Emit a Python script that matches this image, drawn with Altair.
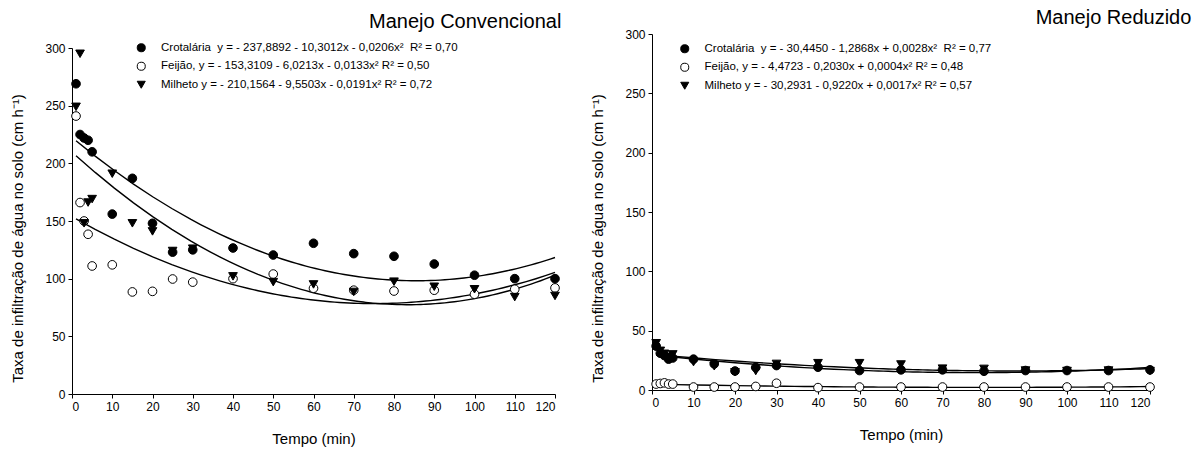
import altair as alt
import pandas as pd

# ---------------- data ----------------
tempo = [1, 2, 3, 4, 5, 10, 15, 20, 25, 30, 40, 50, 60, 70, 80, 90, 100, 110, 120]

conv_crotalaria = [269, 225, 222, 220, 210, 156, 187, 148, 123, 125, 126.6, 120.5, 130.7, 121.7, 119.4, 112.7, 103, 100, 100]
conv_feijao = [241, 166, 150, 138.5, 111, 112, 88.5, 89, 99.7, 97, 100, 104, 91.7, 90, 89.3, 90, 86.5, 90.8, 92]
conv_milheto = [249, 295, 148, 166, 169, 191, 148, 141, 124, 126, 102, 97, 95, 88.5, 97.4, 93, 90.8, 84, 85]

red_crotalaria = [37, 31, 29, 26, 27, 26, 22, 16, 19, 20.6, 19.2, 16.4, 17, 17, 15.8, 16.4, 16.4, 16.4, 17]
red_feijao = [5, 5.5, 6, 5, 5, 2.5, 2.5, 2.5, 3, 5.7, 2, 2.5, 2.5, 2.5, 2.5, 2.5, 2.5, 2.5, 2.5]
red_milheto = [39.4, 33, 30.5, 28, 30, 23.5, 20, 15, 16, 22, 22.6, 22.6, 21.5, 18, 17.8, 16.4, 16, 16.4, 16]

NB = "\u00a0"
conv_labels = [
    f"Crotalária{NB} y = - 237,8892 - 10,3012x - 0,0206x²{NB} R² = 0,70",
    "Feijão, y = - 153,3109 - 6,0213x - 0,0133x² R² = 0,50",
    "Milheto y = - 210,1564 - 9,5503x - 0,0191x² R² = 0,72",
]
red_labels = [
    f"Crotalária{NB} y = - 30,4450 - 1,2868x + 0,0028x²{NB} R² = 0,77",
    "Feijão, y = - 4,4723 - 0,2030x + 0,0004x² R² = 0,48",
    "Milheto y = - 30,2931 - 0,9220x + 0,0017x² R² = 0,57",
]

x_ticks = list(range(0, 121, 10))
y_ticks = list(range(0, 301, 50))

FONT = "Liberation Sans"
Y_TITLE = "Taxa de infiltração de água no solo (cm h⁻¹)"


def make_df(values, labels):
    rows = []
    for vals, lab in zip(values, labels):
        for t, v in zip(tempo, vals):
            rows.append({"t": t, "v": v, "serie": lab})
    return pd.DataFrame(rows)


def panel(df, labels, title, w, h, y_range, lx, ly, title_dx, title_offset):
    shape_scale = alt.Scale(domain=labels, range=["circle", "circle", "triangle-down"])
    fill_scale = alt.Scale(domain=labels, range=["black", "white", "black"])
    stroke_scale = alt.Scale(domain=labels, range=["black", "black", "black"])
    leg = alt.Legend(
        title=None, orient="none", legendX=lx, legendY=ly,
        labelFont=FONT, labelFontSize=11.5, labelColor="black", labelLimit=0,
        symbolStrokeWidth=1, symbolSize=65,
        labelOffset=14, rowPadding=5.5, padding=0,
    )
    x = alt.X("t:Q", scale=alt.Scale(domain=[0, 120], nice=False),
              axis=alt.Axis(values=x_ticks, title="Tempo (min)", titleFontSize=15))
    y = alt.Y("v:Q", scale=alt.Scale(domain=[0, 300], nice=False, range=y_range),
              axis=alt.Axis(values=y_ticks, title=Y_TITLE, titleFontSize=15,
                            titleY=190))
    lines = alt.Chart(df).transform_regression(
        "t", "v", groupby=["serie"], method="poly", order=2, extent=[1, 120]
    ).mark_line(color="black", strokeWidth=1.4).encode(x=x, y=y, detail="serie:N")
    pts = alt.Chart(df).mark_point(
        filled=True, strokeWidth=1, size=75, opacity=1
    ).encode(
        x=x, y=y,
        shape=alt.Shape("serie:N", scale=shape_scale, legend=leg),
        fill=alt.Fill("serie:N", scale=fill_scale, legend=leg),
        stroke=alt.Stroke("serie:N", scale=stroke_scale, legend=leg),
    )
    return alt.layer(lines, pts).properties(
        width=w, height=h,
        title=alt.TitleParams(title, anchor="end", font=FONT, fontSize=20,
                              fontWeight="normal", color="black",
                              dx=title_dx, offset=title_offset),
    )


conv_df = make_df([conv_crotalaria, conv_feijao, conv_milheto], conv_labels)
red_df = make_df([red_crotalaria, red_feijao, red_milheto], red_labels)

left = panel(conv_df, conv_labels, "Manejo Convencional", 483, 346, [346, 0],
             63.5, -6, 0, 10)
right = panel(red_df, red_labels, "Manejo Reduzido", 498, 342, [342, -14],
              27, -5, 35, 0)

chart = alt.hconcat(left, right, spacing=28).resolve_scale(
    shape="independent", fill="independent", stroke="independent"
).resolve_legend(shape="independent", fill="independent", stroke="independent").properties(
    padding={"left": 10, "top": 8, "right": 3, "bottom": 5}
).configure_view(stroke=None).configure_axis(
    grid=False, domainColor="black", tickColor="black", labelColor="black",
    titleColor="black", labelFont=FONT, titleFont=FONT, labelFontSize=12,
    titleFontWeight="normal", tickSize=4, labelPadding=3,
    titlePadding=19,
).configure_axisY(labelAngle=0)

chart.save("out.html", embed_options={"renderer": "svg", "actions": False})
